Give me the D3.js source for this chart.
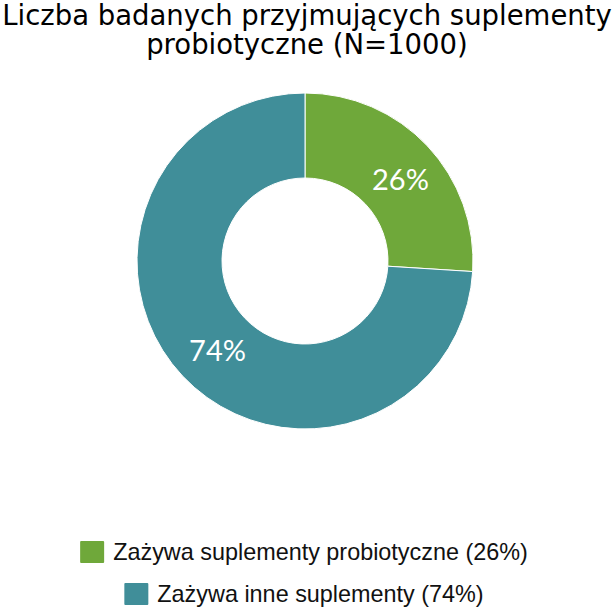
<!DOCTYPE html>
<html>
<head>
<meta charset="utf-8">
<script src="https://cdn.jsdelivr.net/npm/d3@7"></script>
<style>
  body { margin: 0; background: #fff; }
</style>
</head>
<body>
<div id="chart"></div>
<script>
var titleLines = ["Liczba badanych przyjmujących suplementy", "probiotyczne (N=1000)"];
var categories = ["Zażywa suplementy probiotyczne", "Zażywa inne suplementy"];
var values = [26, 74];
var colors = ["#6fa83a", "#408e99"];

var width = 616, height = 608;
var cx = 305, cy = 261, outerR = 168, innerR = 83;

var svg = d3.select("#chart").append("svg")
    .attr("width", width)
    .attr("height", height);

svg.selectAll("text.title").data(titleLines).enter()
    .append("text")
    .attr("class", "title")
    .attr("x", width / 2 - 1)
    .attr("y", function(d, i) { return 25 + i * 29; })
    .attr("text-anchor", "middle")
    .attr("font-family", "DejaVu Sans")
    .attr("font-size", "27.5px")
    .attr("fill", "#000")
    .text(function(d) { return d; });

var data = categories.map(function(c, i) { return {name: c, value: values[i], color: colors[i]}; });

var pie = d3.pie().sort(null).value(function(d) { return d.value; });
var arc = d3.arc().innerRadius(innerR).outerRadius(outerR);

var g = svg.append("g").attr("transform", "translate(" + cx + "," + cy + ")");

g.selectAll("path").data(pie(data)).enter()
    .append("path")
    .attr("d", arc)
    .attr("fill", function(d) { return d.data.color; })
    .attr("stroke", "#fff")
    .attr("stroke-width", 1);

g.selectAll("text").data(pie(data)).enter()
    .append("text")
    .attr("transform", function(d) { return "translate(" + arc.centroid(d) + ")"; })
    .attr("text-anchor", "middle")
    .attr("dx", "4")
    .attr("dy", "0.5em")
    .attr("font-family", "Lato")
    .attr("font-size", "29px")
    .attr("fill", "#fff")
    .text(function(d) { return d.data.value + "%"; });

var legend = svg.selectAll("g.legend").data(data).enter()
    .append("g")
    .attr("class", "legend");

legend.append("text")
    .attr("font-family", "Liberation Sans, Arial")
    .attr("font-size", "23.4px")
    .attr("fill", "#111")
    .attr("y", function(d, i) { return 552 + i * 42; })
    .attr("dy", "0.35em")
    .text(function(d) { return d.name + " (" + d.value + "%)"; });

legend.each(function(d, i) {
    var gg = d3.select(this);
    var tw = gg.select("text").node().getComputedTextLength();
    var total = 24 + 9 + tw;
    var x0 = (width - total) / 2 - 4;
    gg.select("text").attr("x", x0 + 33);
    gg.insert("rect", "text")
        .attr("x", x0)
        .attr("y", 552 + i * 42 - 11)
        .attr("width", 24)
        .attr("height", 22)
        .attr("rx", 1)
        .attr("fill", d.color);
});
</script>
</body>
</html>
